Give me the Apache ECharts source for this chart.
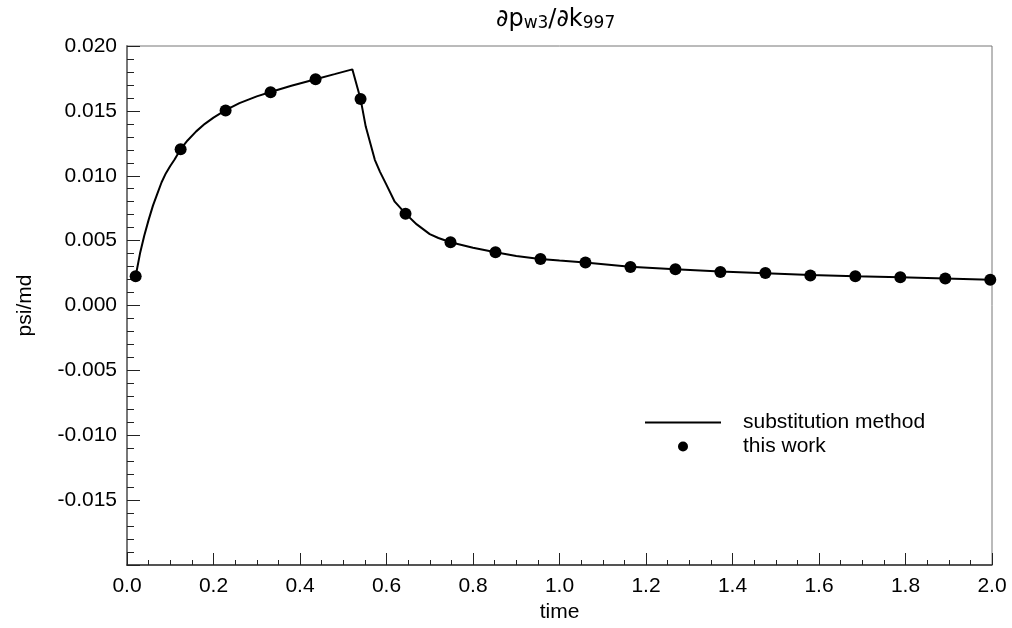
<!DOCTYPE html>
<html>
<head>
<meta charset="utf-8">
<script src="https://cdn.jsdelivr.net/npm/echarts@6/dist/echarts.min.js"></script>
<style>html,body{margin:0;padding:0;background:#fff;}#c{width:1012px;height:628px;}</style>
</head>
<body>
<div id="c"></div>
<script>
// substitution method (continuous curve)
const lineT = [0.02,0.03,0.04,0.05,0.06,0.07,0.08,0.09,0.10,0.11,0.124,0.14,0.16,0.18,0.20,0.228,0.26,0.30,0.332,0.38,0.436,0.48,0.521,0.540,0.552,0.573,0.585,0.600,0.619,0.644,0.67,0.70,0.72,0.748,0.80,0.852,0.90,0.955,1.00,1.059,1.163,1.267,1.372,1.476,1.580,1.684,1.788,1.892,1.996];
const lineV = [0.00225,0.0040,0.0054,0.0066,0.0077,0.0086,0.0095,0.0102,0.01075,0.01125,0.01205,0.01272,0.01342,0.0140,0.01448,0.01505,0.0156,0.01612,0.01646,0.01693,0.01744,0.01783,0.0182,0.01592,0.01379,0.01123,0.0103,0.0093,0.0080,0.00708,0.00625,0.0055,0.0052,0.00487,0.00445,0.00410,0.00382,0.00359,0.00346,0.00331,0.00299,0.00280,0.00262,0.00249,0.00235,0.00225,0.00217,0.00208,0.00198];
// this work (points)
const ptT = [0.02,0.124,0.228,0.332,0.436,0.540,0.644,0.748,0.852,0.956,1.060,1.164,1.268,1.372,1.476,1.580,1.684,1.788,1.892,1.996];
const ptV = [0.00225,0.01205,0.01502,0.01644,0.01744,0.01592,0.00708,0.00487,0.00410,0.00359,0.00331,0.00297,0.00280,0.00259,0.00251,0.00232,0.00225,0.00218,0.00208,0.00198];
const seriesNames = ['substitution method', 'this work'];
const xTitle = 'time';
const yTitle = 'psi/md';

const FONT = '"Liberation Sans", Arial, sans-serif';
const TFONT = '"DejaVu Sans", sans-serif';
const chart = echarts.init(document.getElementById('c'), null, {renderer: 'canvas'});
chart.setOption({
  animation: false,
  backgroundColor: '#fff',
  title: {
    text: '{m|∂p}{s|w3}{m|/∂k}{s|997}',
    left: 496,
    top: 2,
    padding: 0,
    textStyle: {
      fontWeight: 'normal',
      rich: {
        m: {fontFamily: TFONT, fontSize: 24, fontWeight: 'normal', color: '#000', lineHeight: 30, verticalAlign: 'bottom'},
        s: {fontFamily: TFONT, fontSize: 17, fontWeight: 'normal', color: '#000', lineHeight: 30, padding: [9, 0, 0, 0], verticalAlign: 'bottom'}
      }
    }
  },
  legend: {
    orient: 'vertical',
    left: 645,
    top: 412,
    padding: 0,
    itemWidth: 76,
    itemHeight: 10,
    itemGap: 3,
    symbolKeepAspect: true,
    textStyle: {fontFamily: FONT, fontSize: 21, color: '#000', lineHeight: 20, padding: [0, 0, 0, 17]},
    data: [
      {name: seriesNames[0], icon: 'path://M0,0H38V1H0Z', itemStyle: {color: '#000', opacity: 1}},
      {name: seriesNames[1], icon: 'circle', itemStyle: {color: '#000', opacity: 1}}
    ]
  },
  grid: {left: 127, right: 20, top: 46, bottom: 63, show: true, borderColor: '#777', borderWidth: 1, backgroundColor: 'transparent'},
  xAxis: {
    type: 'value', min: 0, max: 2, interval: 0.2,
    name: xTitle, nameLocation: 'middle', nameGap: 36,
    nameTextStyle: {fontFamily: FONT, fontSize: 21, color: '#000'},
    axisLine: {show: true, onZero: false, lineStyle: {color: '#333', width: 1.5}},
    axisTick: {show: true, inside: true, length: 12, lineStyle: {color: '#222', width: 1}},
    minorTick: {show: true, splitNumber: 4, length: 5, lineStyle: {color: '#222', width: 1}},
    splitLine: {show: false},
    axisLabel: {fontFamily: FONT, fontSize: 21, color: '#000', margin: 11, formatter: v => v.toFixed(1)}
  },
  yAxis: {
    type: 'value', min: -0.02, max: 0.02, interval: 0.005,
    name: yTitle, nameLocation: 'middle', nameGap: 91, nameRotate: 90,
    nameTextStyle: {fontFamily: FONT, fontSize: 21, color: '#000'},
    axisLine: {show: true, onZero: false, lineStyle: {color: '#777', width: 2}},
    axisTick: {show: true, inside: true, length: 13, lineStyle: {color: '#222', width: 1}},
    minorTick: {show: true, splitNumber: 5, length: 7, lineStyle: {color: '#222', width: 1}},
    splitLine: {show: false},
    axisLabel: {fontFamily: FONT, fontSize: 21, color: '#000', margin: 10,
      formatter: v => (Math.abs(v + 0.02) < 1e-9 ? '' : v.toFixed(3))}
  },
  series: [
    {
      name: seriesNames[0], type: 'line', data: lineT.map((t, i) => [t, lineV[i]]),
      showSymbol: false, symbol: 'none', smooth: false,
      lineStyle: {color: '#000', width: 2}, itemStyle: {color: '#000'}, z: 2
    },
    {
      name: seriesNames[1], type: 'scatter', data: ptT.map((t, i) => [t, ptV[i]]),
      symbol: 'circle', symbolSize: 12, clip: false,
      itemStyle: {color: '#000', opacity: 1}, z: 3
    }
  ]
});
</script>
</body>
</html>
